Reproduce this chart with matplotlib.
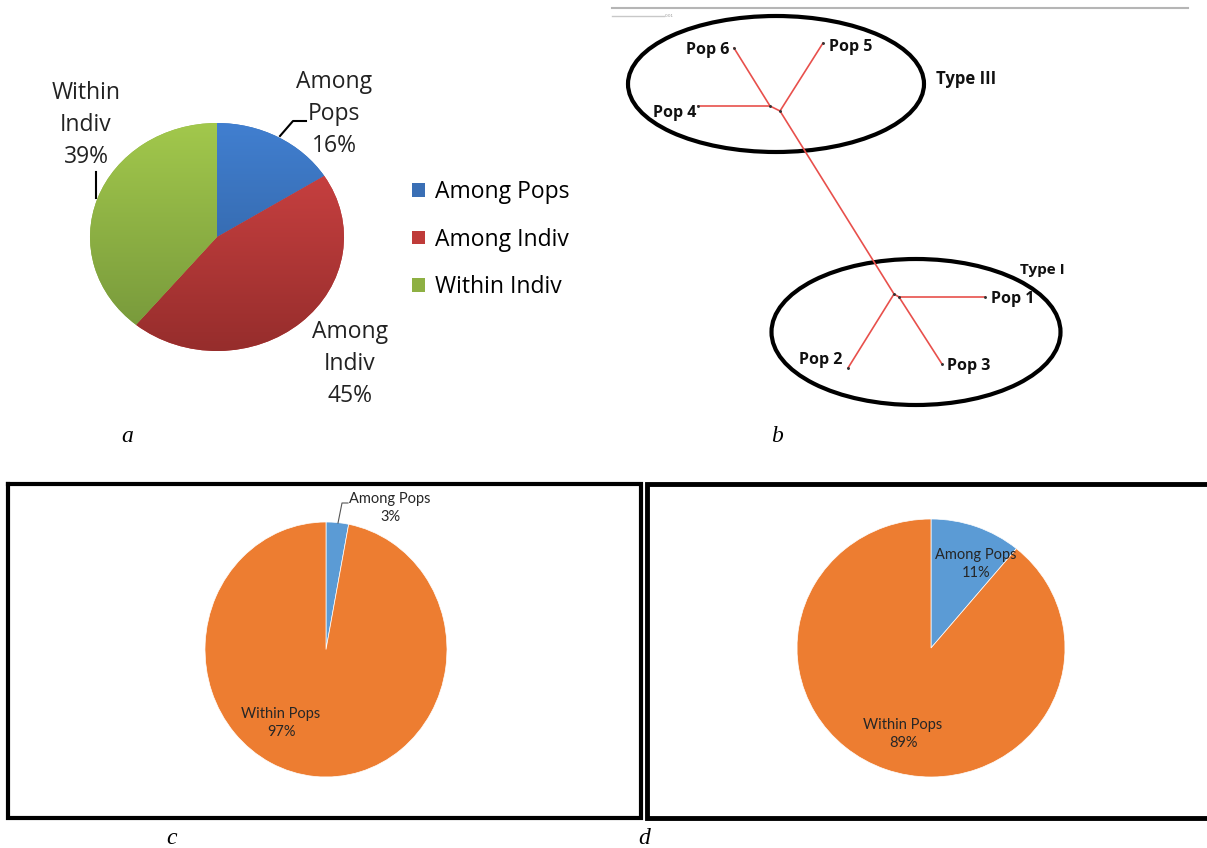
import numpy as np
import matplotlib.pyplot as plt
from matplotlib.colors import to_rgb
from matplotlib.patches import Ellipse, Patch

W, H = 1207, 848

# (a) hierarchical AMOVA
a_labels = ['Among Pops', 'Among Indiv', 'Within Indiv']
a_values = [16, 45, 39]
a_top = ['#417fd0', '#d44545', '#a2c84c']
a_bottom = ['#2d5b96', '#962d2c', '#74953a']
a_mid = ['#3a6fb5', '#bf3b39', '#8eb043']

# (c), (d) two-level AMOVA
cd_labels = ['Among Pops', 'Within Pops']
c_values = [3, 97]
d_values = [11, 89]
cd_colors = ['#5b9bd5', '#ed7d31']

# (b) unrooted tree, node positions in image pixels
tree_nodes = {
    'Pop 4': (698, 106), 'Pop 6': (734, 48), 'j1': (770, 106),
    'j2': (780, 111), 'Pop 5': (823, 43), 'j3': (894, 294),
    'j4': (899, 297), 'Pop 1': (985, 297), 'Pop 2': (848, 368),
    'Pop 3': (942, 364),
}
tree_edges = [('Pop 4', 'j1'), ('Pop 6', 'j1'), ('j1', 'j2'), ('j2', 'Pop 5'),
              ('j2', 'j3'), ('j3', 'Pop 2'), ('j3', 'j4'), ('j4', 'Pop 1'),
              ('j4', 'Pop 3')]
tip_labels = {'Pop 6': (729, 50, 'right'), 'Pop 5': (829, 47, 'left'),
              'Pop 4': (696, 113, 'right'), 'Pop 1': (991, 299, 'left'),
              'Pop 2': (842, 360, 'right'), 'Pop 3': (947, 366, 'left')}

fig = plt.figure(figsize=(W / 100, H / 100), dpi=100)


def px_frame(zorder):
    ax = fig.add_axes([0, 0, 1, 1], zorder=zorder)
    ax.set_xlim(0, W)
    ax.set_ylim(H, 0)
    ax.axis('off')
    ax.patch.set_alpha(0)
    return ax


base = px_frame(0)


def px_axes(x0, y0, x1, y1):
    ax = fig.add_axes([x0 / W, 1 - y1 / H, (x1 - x0) / W, (y1 - y0) / H], zorder=1)
    ax.patch.set_alpha(0)
    return ax


def draw_pie(ax, values, colors, **kw):
    wedges, _ = ax.pie(values, colors=colors, startangle=90, counterclock=False,
                       radius=1, **kw)
    ax.set_aspect('auto')
    ax.set_xlim(-1, 1)
    ax.set_ylim(-1, 1)
    return wedges


# ---- panel a ----
ax_a = px_axes(90, 123, 344, 351)
wa = draw_pie(ax_a, a_values, a_mid, wedgeprops=dict(linewidth=0))
t = np.linspace(0, 1, 200)[:, None, None]
for w, c0, c1 in zip(wa, a_top, a_bottom):
    c0, c1 = np.array(to_rgb(c0)), np.array(to_rgb(c1))
    img = np.repeat((1 - t) * c0 + t * c1, 2, axis=1)
    im = ax_a.imshow(img, extent=[-1, 1, -1, 1], aspect='auto', zorder=2)
    im.set_clip_path(w)
ax_a.set_xlim(-1, 1)
ax_a.set_ylim(-1, 1)

top = px_frame(2)

fa = 'Open Sans'
ta = dict(ha='center', va='center', fontsize=16.5, family=fa, color='#222222',
          linespacing=1.45)
top.text(334, 114, 'Among\nPops\n16%', **ta)
top.text(86, 125, 'Within\nIndiv\n39%', **ta)
top.text(350, 364, 'Among\nIndiv\n45%', **ta)
top.plot([280, 293, 306], [136, 121, 121], color='black', lw=1.5)
top.plot([96, 96], [172, 198], color='black', lw=1.5)

handles = [Patch(facecolor=c, edgecolor='none') for c in a_mid]
fig.legend(handles, a_labels, loc='upper left', bbox_to_anchor=(412 / W, 1 - 180 / H),
           frameon=False, prop={'family': fa, 'size': 16.5},
           handlelength=0.55, handleheight=0.55, handletextpad=0.45,
           labelspacing=1.03, borderaxespad=0, borderpad=0)

# ---- panel b ----
base.plot([612, 1188], [8, 8], color='#b5b5b5', lw=1.5)
base.plot([612, 664], [16, 16], color='#c8c8c8', lw=1)
base.text(665, 16, '0.01', fontsize=3, color='#999999', va='center')

for u, v in tree_edges:
    (x0, y0), (x1, y1) = tree_nodes[u], tree_nodes[v]
    base.plot([x0, x1], [y0, y1], color='#e8504c', lw=1.2, zorder=3)
xs, ys = zip(*tree_nodes.values())
base.scatter(xs, ys, s=1.2, color='#333333', zorder=4)

fb = dict(family='Open Sans', fontweight='bold', color='#111111')
for name, (x, y, ha) in tip_labels.items():
    base.text(x, y, name, ha=ha, va='center', fontsize=11.5, **fb)
base.text(936, 79, 'Type III', ha='left', va='center', fontsize=12, **fb)
base.text(1020, 270, 'Type I', ha='left', va='center', fontsize=11, **fb)

base.add_patch(Ellipse((776, 84), 296, 136, fill=False, lw=3, ec='black'))
base.add_patch(Ellipse((916, 332), 289, 146, fill=False, lw=3, ec='black'))

# ---- panels c and d ----
base.plot([8, 641, 641, 8, 8], [484, 484, 818, 818, 484], color='black', lw=3,
          solid_joinstyle='miter')
base.plot([1210, 647, 647, 1210], [484, 484, 818, 818], color='black', lw=3.5,
          solid_joinstyle='miter')

ax_c = px_axes(205, 522, 447, 777)
draw_pie(ax_c, c_values, cd_colors, wedgeprops=dict(linewidth=0.5, edgecolor='white'))
ax_d = px_axes(797, 519, 1065, 777)
draw_pie(ax_d, d_values, cd_colors, wedgeprops=dict(linewidth=0.5, edgecolor='white'))

fc = dict(family='Lato', fontsize=10.5, color='#262626', ha='center', va='center',
          linespacing=1.3)
top.text(390, 508, f'{cd_labels[0]}\n{c_values[0]}%', **fc)
top.text(281, 723, f'{cd_labels[1]}\n{c_values[1]}%', **fc)
top.plot([338, 342, 348], [523, 503, 503], color='#555555', lw=0.8)
top.text(976, 564, f'{cd_labels[0]}\n{d_values[0]}%', **fc)
top.text(903, 734, f'{cd_labels[1]}\n{d_values[1]}%', **fc)

# panel letters
fl = dict(family='Liberation Serif', style='italic', fontsize=17, ha='center',
          va='center')
base.text(127, 436, 'a', **fl)
base.text(777, 436, 'b', **fl)
base.text(172, 838, 'c', **fl)
base.text(644, 838, 'd', **fl)

fig.savefig('out.png', dpi=100)
